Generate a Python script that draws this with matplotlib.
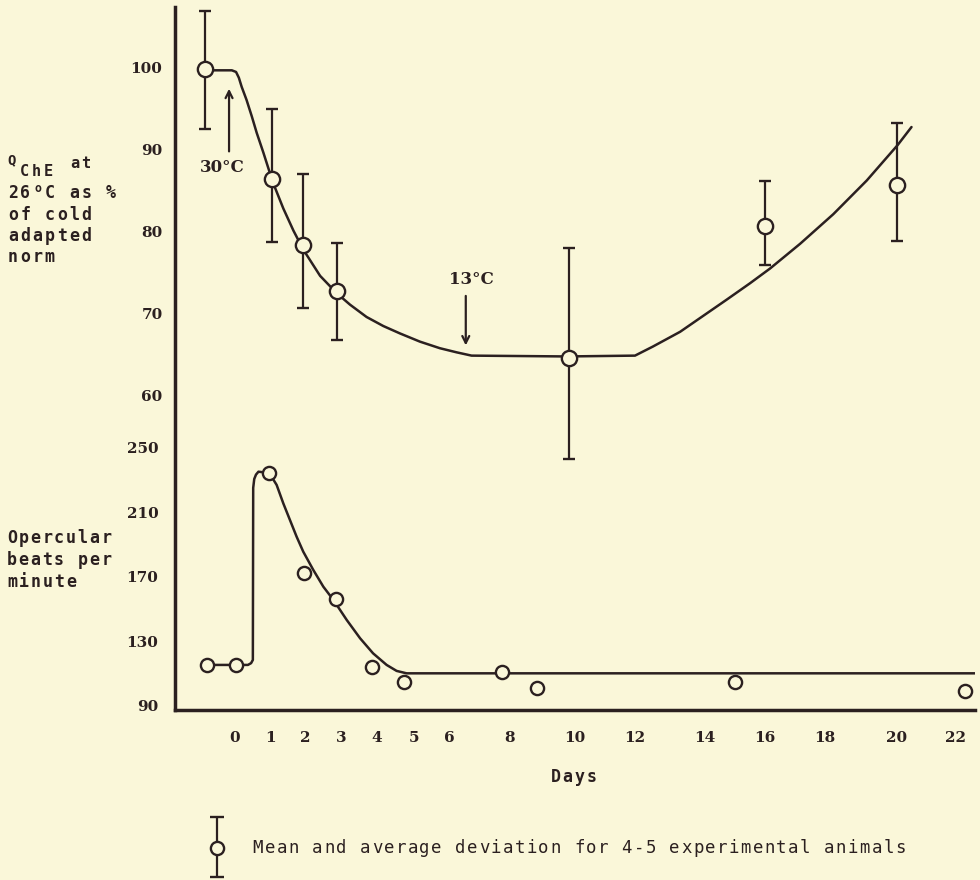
import matplotlib
matplotlib.use("Agg")
import matplotlib.pyplot as plt
import numpy as np

# ---------------------------------------------------------------------------
# Data
# ---------------------------------------------------------------------------
# Q_ChE at 26 C as % of cold adapted norm: mean and average-deviation limits
qche_days = [-0.85, 1.05, 1.95, 2.9, 9.8, 16.0, 20.0]
qche_mean = [99.7, 86.4, 78.4, 72.7, 64.6, 80.7, 85.7]
qche_hi = [106.8, 94.9, 87.0, 78.6, 78.0, 86.1, 93.2]
qche_lo = [92.5, 78.7, 70.7, 66.8, 52.3, 75.9, 78.8]

# hand-drawn trend through the Q_ChE means
qche_fit_days = [-0.84, -0.09, 0.03, 0.11, 0.19, 0.33, 0.48, 0.62, 0.81, 1.08,
                 1.38, 1.67, 1.95, 2.42, 2.88, 3.25, 3.71, 4.17, 4.62, 5.17,
                 5.74, 6.25, 6.74, 9.74, 12.0, 12.51, 13.29, 14.72, 15.5, 16.17,
                 17.17, 18.23, 19.16, 20.02, 20.5]
qche_fit_vals = [99.6, 99.6, 99.4, 98.7, 97.6, 96.0, 94.0, 92.0, 89.6, 86.0,
                 82.8, 80.1, 77.8, 74.6, 72.5, 71.1, 69.6, 68.5, 67.6, 66.6,
                 65.8, 65.3, 64.9, 64.8, 64.9, 66.0, 67.8, 71.7, 73.7, 75.5,
                 78.5, 82.1, 86.2, 90.5, 92.7]

# opercular beats per minute
beat_days = [-0.8, 0.03, 0.98, 1.97, 2.86, 3.86, 4.73, 7.73, 8.83, 15.0, 22.34]
beat_vals = [115.4, 115.4, 234.0, 172.3, 156.2, 114.3, 105.0, 111.2, 101.3, 104.7, 99.5]

beat_fit_days = [-0.8, 0.03, 0.37, 0.46, 0.51, 0.52, 0.55, 0.6, 0.67, 0.98,
                 1.19, 1.38, 1.57, 1.76, 1.95, 2.23, 2.51, 2.79, 3.16, 3.53,
                 3.89, 4.26, 4.53, 4.8, 22.69]
beat_fit_vals = [115.4, 115.4, 115.4, 116.5, 118.5, 225.0, 230.5, 233.2, 235.0, 234.2,
                 226.8, 215.4, 205.1, 194.8, 185.5, 174.2, 163.8, 155.6, 143.2, 131.9,
                 122.6, 115.4, 111.7, 110.2, 110.2]

# day axis is not evenly spaced: tick days and where each one sits (px)
tick_days = [0, 1, 2, 3, 4, 5, 6, 8, 10, 12, 14, 16, 18, 20, 22]
tick_pos = [235, 270, 305, 341, 377, 414, 449, 510, 575, 635, 705, 765, 825, 897, 955]

qche_ticks = [60, 70, 80, 90, 100]
beat_ticks = [90, 130, 170, 210, 250]

# ---------------------------------------------------------------------------
# Style
# ---------------------------------------------------------------------------
BG = "#faf7d9"
INK = "#2b2020"
W, H = 980, 880

knot_days = np.array([-3] + tick_days + [25], dtype=float)
knot_pos = np.array([130] + tick_pos + [1042], dtype=float)


def day_to_pos(d):
    return np.interp(d, knot_days, knot_pos)


def pos_to_day(p):
    return np.interp(p, knot_pos, knot_days)


def px_box(left, top, right, bottom):
    return [left / W, 1 - bottom / H, (right - left) / W, (bottom - top) / H]


def typed(ax, x, y, s, advance, size=12, weight="bold"):
    """Typewriter-style text: one glyph per fixed advance, starting at x.
    A degree sign is set as a small raised 'o'."""
    for i, ch in enumerate(s):
        if ch == " ":
            continue
        cx = x + (i + 0.5) * advance
        if ch == "°":
            ax.text(cx, y - 5, "o", ha="center", va="center", fontsize=size * 0.7,
                    fontweight=weight, family="DejaVu Sans Mono", color=INK)
            continue
        ax.text(cx, y, ch, ha="center", va="center", fontsize=size,
                fontweight=weight, family="DejaVu Sans Mono", color=INK)


num_font = dict(family="DejaVu Serif", weight="bold", size=11)

fig = plt.figure(figsize=(W / 100, H / 100), dpi=100)
fig.patch.set_facecolor(BG)

# the Q_ChE axes owns the full-height vertical axis line
ax_q = fig.add_axes(px_box(175, 7, 975, 710))
ax_b = fig.add_axes(px_box(175, 420, 975, 710))

for ax in (ax_q, ax_b):
    ax.set_facecolor("none")
    ax.set_xscale("function", functions=(day_to_pos, pos_to_day))
    ax.set_xlim(float(pos_to_day(175)), float(pos_to_day(975)))
    for side in ("top", "right", "bottom", "left"):
        ax.spines[side].set_visible(False)
    ax.tick_params(length=0, colors=INK)

ax_q.spines["left"].set_visible(True)
ax_q.spines["left"].set_linewidth(2.5)
ax_q.spines["left"].set_color(INK)
ax_b.spines["bottom"].set_visible(True)
ax_b.spines["bottom"].set_linewidth(2.5)
ax_b.spines["bottom"].set_color(INK)
ax_b.spines["bottom"].set_capstyle("projecting")

# --- Q_ChE panel ---
ax_q.set_ylim(21.8, 107.3)
ax_q.set_yticks(qche_ticks)
ax_q.set_yticklabels([str(v) for v in qche_ticks], fontdict=num_font)
ax_q.tick_params(axis="y", pad=9)
ax_q.set_xticks([])

ax_q.plot(qche_fit_days, qche_fit_vals, color=INK, lw=1.8,
          solid_joinstyle="round", solid_capstyle="round", zorder=2)
mean = np.array(qche_mean)
yerr = [mean - np.array(qche_lo), np.array(qche_hi) - mean]
ax_q.errorbar(qche_days, qche_mean, yerr=yerr, fmt="o", ms=11,
              mfc=BG, mec=INK, mew=1.7, ecolor=INK, elinewidth=1.6,
              capsize=4.5, capthick=1.6, zorder=3)

arrow = dict(arrowstyle="->,head_length=0.5,head_width=0.25", lw=1.6, color=INK)
ax_q.annotate("", xy=(-0.17, 97.7), xytext=(-0.17, 89.4), arrowprops=arrow)
ax_q.text(-0.37, 87.8, "30°C", ha="center", va="center", color=INK,
          family="DejaVu Serif", weight="bold", size=12)
ax_q.annotate("", xy=(6.55, 65.8), xytext=(6.55, 72.5), arrowprops=arrow)
ax_q.text(6.74, 74.2, "13°C", ha="center", va="center", color=INK,
          family="DejaVu Serif", weight="bold", size=12)

# --- opercular beat panel ---
ax_b.set_ylim(87.5, 267.0)
ax_b.set_yticks(beat_ticks)
ax_b.set_yticklabels([str(v) for v in beat_ticks], fontdict=num_font)
ax_b.tick_params(axis="y", pad=12)
ax_b.set_xticks(tick_days)
ax_b.set_xticklabels([str(d) for d in tick_days], fontdict=num_font)
ax_b.tick_params(axis="x", pad=15)

ax_b.plot(beat_fit_days, beat_fit_vals, color=INK, lw=1.8,
          solid_joinstyle="round", solid_capstyle="round", zorder=2)
ax_b.plot(beat_days, beat_vals, "o", ms=9.5, mfc=BG, mec=INK, mew=1.7, zorder=3)

# --- free text and legend key, drawn in pixel space ---
ov = fig.add_axes([0, 0, 1, 1])
ov.set_xlim(0, W)
ov.set_ylim(H, 0)
ov.axis("off")
ov.patch.set_alpha(0)

typed(ov, 7, 160, "Q", 10, size=10)
typed(ov, 18, 171, "ChE", 12, size=11)
typed(ov, 69, 163, "at", 11, size=11)
for i, line in enumerate(["26°C as %", "of cold", "adapted", "norm"]):
    typed(ov, 7, 193 + i * 21.5, line, 12.2)
for i, line in enumerate(["Opercular", "beats per", "minute"]):
    typed(ov, 6, 538 + i * 22, line, 11.8)

typed(ov, 550, 777, "Days", 11.8)

ov.errorbar([216.5], [848], yerr=[[31], [29]], fmt="o", ms=9.5, mfc=BG, mec=INK,
            mew=1.7, ecolor=INK, elinewidth=1.6, capsize=5, capthick=1.6)
typed(ov, 252, 848, "Mean and average deviation for 4-5 experimental animals",
      11.9, size=12.5, weight="normal")

fig.savefig("out.png", dpi=100, facecolor=BG)
